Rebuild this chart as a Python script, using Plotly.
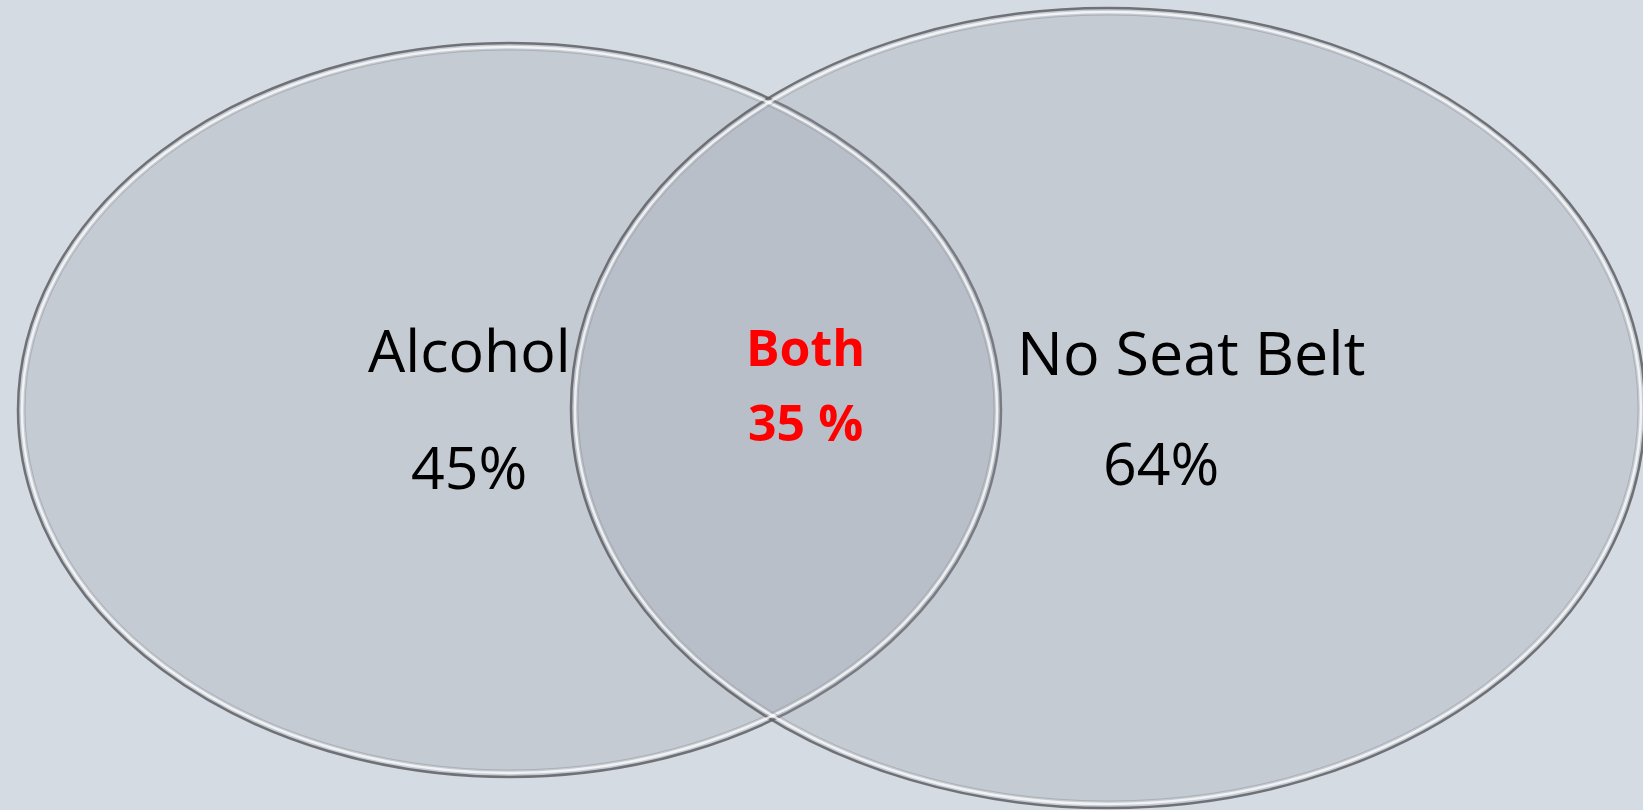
import plotly.graph_objects as go

# ---- data ----
set_labels = ["Alcohol", "No Seat Belt"]
set_values = [45, 64]
both_label = "Both"
both_value = 35

# ---- geometry (pixel-space layout) ----
W, H = 1643, 810
ellipses = [  # (cx, cy, rx, ry)
    (509.5, 410, 491.5, 367),
    (1108, 408, 537, 400),
]
label_pos = [(469, 349), (1191, 351)]
value_pos = [(469, 466), (1161, 462)]
both_pos = [(805, 347), (805, 422)]

bg = "#d4dbe2"
fig = go.Figure()
fig.add_trace(go.Scatter(x=[0, W], y=[0, H], mode="markers",
                         marker=dict(opacity=0), hoverinfo="skip", showlegend=False))

shapes = []
for (cx, cy, rx, ry) in ellipses:
    shapes.append(dict(type="circle", xref="x", yref="y",
                       x0=cx - rx, x1=cx + rx, y0=cy - ry, y1=cy + ry,
                       fillcolor="rgba(150,156,168,0.25)",
                       line=dict(color="rgba(95,95,100,0.85)", width=2.5), layer="below"))
for (cx, cy, rx, ry) in ellipses:
    d = 4
    shapes.append(dict(type="circle", xref="x", yref="y",
                       x0=cx - rx + d, x1=cx + rx - d, y0=cy - ry + d, y1=cy + ry - d,
                       fillcolor="rgba(0,0,0,0)",
                       line=dict(color="rgba(255,255,255,0.75)", width=2.5), layer="below"))
    d = 7
    shapes.append(dict(type="circle", xref="x", yref="y",
                       x0=cx - rx + d, x1=cx + rx - d, y0=cy - ry + d, y1=cy + ry - d,
                       fillcolor="rgba(0,0,0,0)",
                       line=dict(color="rgba(140,140,148,0.45)", width=1), layer="below"))

annotations = []
font = "Open Sans, Lato, sans-serif"
for lab, val, lp, vp, fs in zip(set_labels, set_values, label_pos, value_pos, [59, 61]):
    annotations.append(dict(x=lp[0], y=lp[1], xref="x", yref="y", text=lab, showarrow=False,
                            font=dict(family=font, size=fs, color="black"),
                            xanchor="center", yanchor="middle"))
    annotations.append(dict(x=vp[0], y=vp[1], xref="x", yref="y", text=f"{val}%", showarrow=False,
                            font=dict(family=font, size=59, color="black"),
                            xanchor="center", yanchor="middle"))
annotations.append(dict(x=both_pos[0][0], y=both_pos[0][1], xref="x", yref="y", text=f"<b>{both_label}</b>",
                        showarrow=False, font=dict(family=font, size=50, color="#ff0000"),
                        xanchor="center", yanchor="middle"))
annotations.append(dict(x=both_pos[1][0], y=both_pos[1][1], xref="x", yref="y", text=f"<b>{both_value} %</b>",
                        showarrow=False, font=dict(family=font, size=50, color="#ff0000"),
                        xanchor="center", yanchor="middle"))

fig.update_layout(
    width=W, height=H, margin=dict(l=0, r=0, t=0, b=0),
    paper_bgcolor=bg, plot_bgcolor=bg,
    xaxis=dict(range=[0, W], visible=False, fixedrange=True),
    yaxis=dict(range=[H, 0], visible=False, fixedrange=True),
    shapes=shapes, annotations=annotations, showlegend=False,
)
fig.write_html("out.html", config={"displayModeBar": False},
               post_script="document.body.style.margin='0';document.body.style.overflow='hidden';"
                           "document.body.style.background='" + bg + "';")
